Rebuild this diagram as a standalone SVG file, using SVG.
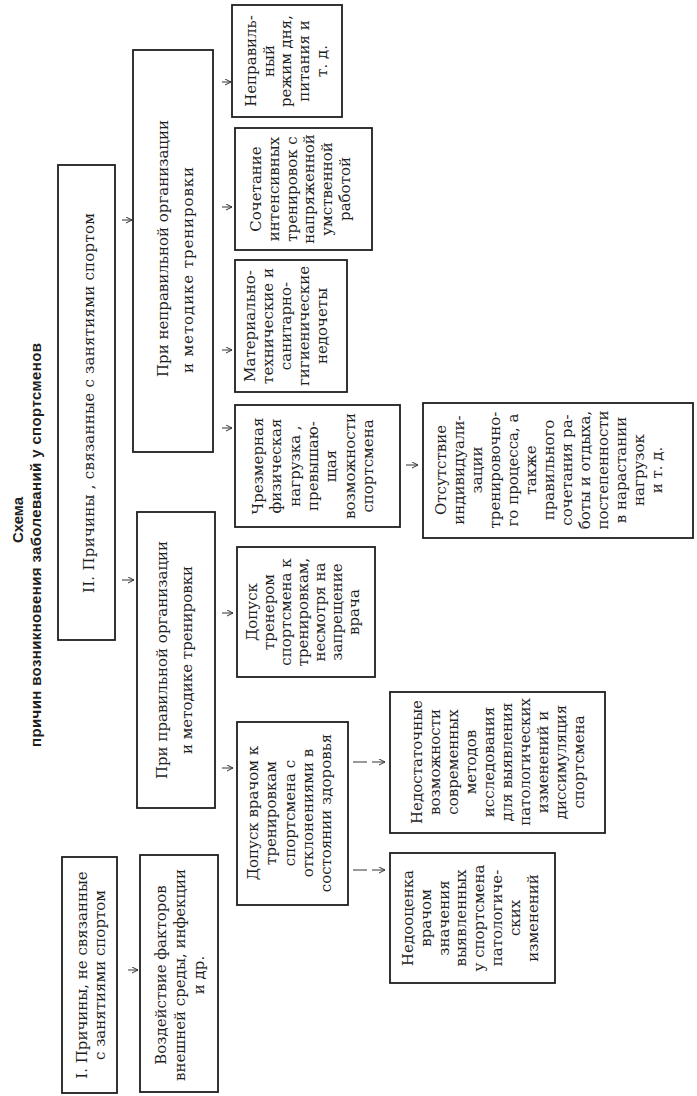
<svg xmlns="http://www.w3.org/2000/svg" width="697" height="1096" viewBox="0 0 697 1096">
<style>
.bg{fill:#ffffff}
.box{fill:none;stroke:#1e1e1e;stroke-width:1.8}
.t{font-family:"DejaVu Serif","Liberation Serif",serif;font-size:15px;fill:#1e1e1e;text-anchor:middle}
.ts{text-anchor:start}
.h{font-family:"Liberation Sans",Arial,sans-serif;font-weight:bold;font-size:15px;fill:#1e1e1e;text-anchor:middle}
.arr{fill:none;stroke:#333;stroke-width:1;marker-end:url(#ah)}
</style>
<defs>
<marker id="ah" markerWidth="8" markerHeight="8" refX="6" refY="3" orient="auto" markerUnits="userSpaceOnUse">
<path d="M0,0 L6,3 L0,6" fill="none" stroke="#333" stroke-width="1"/>
</marker>
</defs>
<rect class="bg" x="0" y="0" width="697" height="1096"/>
<g id="title">
<text class="h" transform="translate(23,520) rotate(-90)">Схема</text>
<text class="h" transform="translate(41,545) rotate(-90)" textLength="404" lengthAdjust="spacing">причин возникновения заболеваний у спортсменов</text>
</g>
<g id="n1">
<rect class="box" x="62" y="857" width="55" height="236"/>
<text class="t" transform="translate(87,975) rotate(-90)"><tspan x="0" y="0">I. Причины, не связанные</tspan><tspan x="0" dy="18">с занятиями спортом</tspan></text>
</g>
<g id="n2">
<rect class="box" x="58" y="165" width="57" height="475"/>
<text class="t" transform="translate(94,403) rotate(-90)" textLength="380" lengthAdjust="spacing">II. Причины , связанные с занятиями спортом</text>
</g>
<g id="n3">
<rect class="box" x="140" y="855" width="78" height="237"/>
<text class="t" transform="translate(166,975) rotate(-90)"><tspan x="0" y="0">Воздействие факторов</tspan><tspan x="0" dy="19">внешней среды, инфекции</tspan><tspan x="0" dy="19">и др.</tspan></text>
</g>
<g id="n4">
<rect class="box" x="133" y="50" width="80" height="402"/>
<text class="t ts" transform="translate(168,377) rotate(-90)"><tspan x="0" y="0" textLength="257" lengthAdjust="spacing">При неправильной организации</tspan><tspan x="4" dy="25" textLength="206" lengthAdjust="spacing">и методике тренировки</tspan></text>
</g>
<g id="n5">
<rect class="box" x="137" y="512" width="78" height="296"/>
<text class="t" transform="translate(167,660) rotate(-90)"><tspan x="0" y="0">При правильной организации</tspan><tspan x="0" dy="25">и методике тренировки</tspan></text>
</g>
<g id="n6">
<rect class="box" x="232" y="5" width="110" height="112"/>
<text class="t" transform="translate(256,61) rotate(-90)"><tspan x="0" y="0">Неправиль-</tspan><tspan x="0" dy="17.7">ный</tspan><tspan x="0" dy="17.7">режим дня,</tspan><tspan x="0" dy="17.7">питания и</tspan><tspan x="0" dy="17.7">т. д.</tspan></text>
</g>
<g id="n7">
<rect class="box" x="235" y="128" width="137" height="122"/>
<text class="t" transform="translate(261,189) rotate(-90)"><tspan x="0" y="0">Сочетание</tspan><tspan x="0" dy="17.8">интенсивных</tspan><tspan x="0" dy="17.8">тренировок с</tspan><tspan x="0" dy="17.8">напряженной</tspan><tspan x="0" dy="17.8">умственной</tspan><tspan x="0" dy="17.8">работой</tspan></text>
</g>
<g id="n8">
<rect class="box" x="235" y="260" width="112" height="132"/>
<text class="t" transform="translate(255,326) rotate(-90)"><tspan x="0" y="0">Материально-</tspan><tspan x="0" dy="18">технические и</tspan><tspan x="0" dy="18">санитарно-</tspan><tspan x="0" dy="18">гигиенические</tspan><tspan x="0" dy="18">недочеты</tspan></text>
</g>
<g id="n9">
<rect class="box" x="235" y="405" width="165" height="122"/>
<text class="t" transform="translate(263,466) rotate(-90)"><tspan x="0" y="0">Чрезмерная</tspan><tspan x="0" dy="18.3">физическая</tspan><tspan x="0" dy="18.3">нагрузка ,</tspan><tspan x="0" dy="18.3">превышаю-</tspan><tspan x="0" dy="18.3">щая</tspan><tspan x="0" dy="18.3">возможности</tspan><tspan x="0" dy="18.3">спортсмена</tspan></text>
</g>
<g id="n10">
<rect class="box" x="237" y="547" width="138" height="130"/>
<text class="t" transform="translate(257,612) rotate(-90)"><tspan x="0" y="0">Допуск</tspan><tspan x="0" dy="17">тренером</tspan><tspan x="0" dy="17">спортсмена к</tspan><tspan x="0" dy="17">тренировкам,</tspan><tspan x="0" dy="17">несмотря на</tspan><tspan x="0" dy="17">запрещение</tspan><tspan x="0" dy="17">врача</tspan></text>
</g>
<g id="n11">
<rect class="box" x="237" y="722" width="111" height="183"/>
<text class="t" transform="translate(258,813) rotate(-90)"><tspan x="0" y="0">Допуск врачом к</tspan><tspan x="0" dy="18.3">тренировкам</tspan><tspan x="0" dy="18.3">спортсмена с</tspan><tspan x="0" dy="18.3">отклонениями в</tspan><tspan x="0" dy="18.3">состоянии здоровья</tspan></text>
</g>
<g id="n12">
<rect class="box" x="423" y="403" width="270" height="135"/>
<text class="t" transform="translate(446,470) rotate(-90)"><tspan x="0" y="0">Отсутствие</tspan><tspan x="0" dy="18">индивидуали-</tspan><tspan x="0" dy="18">зации</tspan><tspan x="0" dy="18">тренировочно-</tspan><tspan x="0" dy="18">го процесса, а</tspan><tspan x="0" dy="18">также</tspan><tspan x="0" dy="18">правильного</tspan><tspan x="0" dy="18">сочетания ра-</tspan><tspan x="0" dy="18">боты и отдыха,</tspan><tspan x="0" dy="18">постепенности</tspan><tspan x="0" dy="18">в нарастании</tspan><tspan x="0" dy="18">нагрузок</tspan><tspan x="0" dy="18">и т. д.</tspan></text>
</g>
<g id="n13">
<rect class="box" x="390" y="692" width="215" height="141"/>
<text class="t" transform="translate(422,762) rotate(-90)"><tspan x="0" y="0">Недостаточные</tspan><tspan x="0" dy="18">возможности</tspan><tspan x="0" dy="18">современных</tspan><tspan x="0" dy="18">методов</tspan><tspan x="0" dy="18">исследования</tspan><tspan x="0" dy="18">для выявления</tspan><tspan x="0" dy="18">патологических</tspan><tspan x="0" dy="18">изменений и</tspan><tspan x="0" dy="18">диссимуляция</tspan><tspan x="0" dy="18">спортсмена</tspan></text>
</g>
<g id="n14">
<rect class="box" x="390" y="853" width="165" height="130"/>
<text class="t" transform="translate(413,918) rotate(-90)"><tspan x="0" y="0">Недооценка</tspan><tspan x="0" dy="17.8">врачом</tspan><tspan x="0" dy="17.8">значения</tspan><tspan x="0" dy="17.8">выявленных</tspan><tspan x="0" dy="17.8">у спортсмена</tspan><tspan x="0" dy="17.8">патологиче-</tspan><tspan x="0" dy="17.8">ских</tspan><tspan x="0" dy="17.8">изменений</tspan></text>
</g>
<g id="connectors">
<path class="arr" d="M128,970 H138"/>
<path class="arr" d="M122,220 H132"/>
<path class="arr" d="M122,580 H134"/>
<path class="arr" d="M222,82 H231"/>
<path class="arr" d="M222,207 H232"/>
<path class="arr" d="M222,350 H232"/>
<path class="arr" d="M222,428 H232"/>
<path class="arr" d="M222,613 H233"/>
<path class="arr" d="M222,768 H233"/>
<path class="arr" d="M406,465 H418"/>
<path class="arr" d="M353,762 H367 M372,762 H385"/>
<path class="arr" d="M353,870 H367 M372,870 H385"/>
</g>
</svg>
